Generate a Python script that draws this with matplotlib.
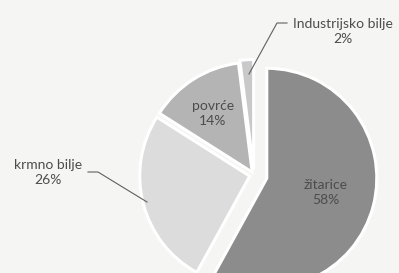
import matplotlib
matplotlib.use("Agg")
import matplotlib.pyplot as plt
import numpy as np

# data
labels = ["žitarice", "krmno bilje", "povrće", "Industrijsko bilje"]
values = [58, 26, 14, 2]
colors = ["#8c8c8c", "#dcdcdc", "#b4b4b4", "#c9c9c9"]
explode = [0.12, 0.04, 0.03, 0.05]

plt.rcParams['font.family'] = ['Lato', 'DejaVu Sans']

fig = plt.figure(figsize=(3.99, 2.73), dpi=100, facecolor="#f5f5f3")
ax = fig.add_axes([0, 0, 1, 1])
ax.set_facecolor("#f5f5f3")

wedges, _ = ax.pie(values, colors=colors, explode=explode, startangle=90,
                   counterclock=False, radius=1.0,
                   wedgeprops=dict(edgecolor="white", linewidth=2.2))

# pie center ~ (254, 175) px, radius ~ 110 px
R = 110.0
cx, cy = 254.0, 175.0
ax.set_xlim(-cx / R, (399 - cx) / R)
ax.set_ylim(-(273 - cy) / R, cy / R)
ax.set_aspect("equal")
ax.axis("off")

def px(x, y):
    return (x - cx) / R, (cy - y) / R

txt = dict(color="#4c4c4c", fontsize=10, ha="center", va="center",
           linespacing=1.3)
ax.text(*px(326, 193), "žitarice\n58%", **txt)
ax.text(*px(213, 114), "povrće\n14%", **txt)
ax.text(*px(48, 173), "krmno bilje\n26%", **txt)
ax.text(*px(343, 32), "Industrijsko bilje\n2%", **txt)

# leader lines
lc = dict(color="#606060", linewidth=0.8)
p = [px(88, 172), px(98, 172), px(147, 202)]
ax.plot([a for a, b in p], [b for a, b in p], **lc)
p = [px(287, 23), px(277, 23), px(249, 74)]
ax.plot([a for a, b in p], [b for a, b in p], **lc)

fig.savefig("out.png", dpi=100, facecolor=fig.get_facecolor())
